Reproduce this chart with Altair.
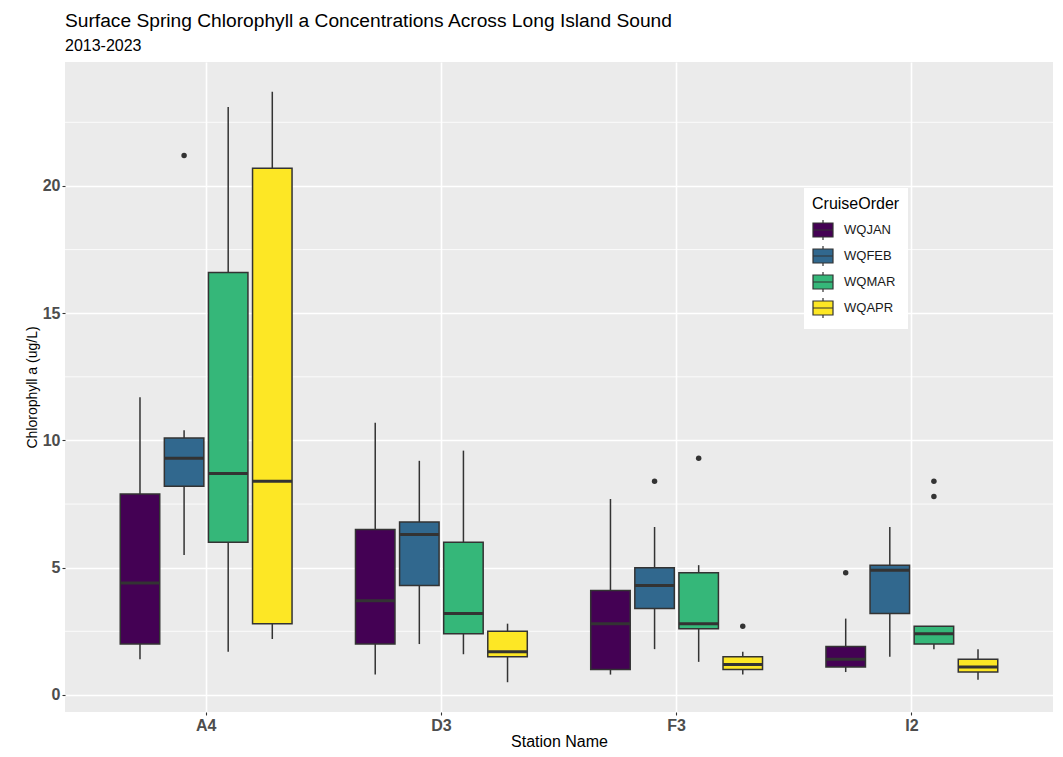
import altair as alt
import pandas as pd

FONT = "Liberation Sans"

stations = ["A4", "D3", "F3", "I2"]
cruises = ["WQJAN", "WQFEB", "WQMAR", "WQAPR"]
colors = ["#440154", "#31688E", "#35B779", "#FDE725"]

# box summaries, station-major, cruise order as in `cruises`
box_station = ["A4"] * 4 + ["D3"] * 4 + ["F3"] * 4 + ["I2"] * 4
box_cruise = cruises * 4
whisker_low = [1.4, 5.5, 1.7, 2.2, 0.8, 2.0, 1.6, 0.5, 0.8, 1.8, 1.3, 0.8, 0.9, 1.5, 1.8, 0.6]
q1 = [2.0, 8.2, 6.0, 2.8, 2.0, 4.3, 2.4, 1.5, 1.0, 3.4, 2.6, 1.0, 1.1, 3.2, 2.0, 0.9]
median = [4.4, 9.3, 8.7, 8.4, 3.7, 6.3, 3.2, 1.7, 2.8, 4.3, 2.8, 1.2, 1.4, 4.9, 2.4, 1.1]
q3 = [7.9, 10.1, 16.6, 20.7, 6.5, 6.8, 6.0, 2.5, 4.1, 5.0, 4.8, 1.5, 1.9, 5.1, 2.7, 1.4]
whisker_high = [11.7, 10.4, 23.1, 23.7, 10.7, 9.2, 9.6, 2.8, 7.7, 6.6, 5.1, 1.7, 3.0, 6.6, 2.7, 1.8]

out_station = ["A4", "F3", "F3", "F3", "I2", "I2", "I2"]
out_cruise = ["WQFEB", "WQFEB", "WQMAR", "WQAPR", "WQJAN", "WQMAR", "WQMAR"]
out_value = [21.2, 8.4, 9.3, 2.7, 4.8, 8.4, 7.8]

y_major = [0, 5, 10, 15, 20]
y_minor = [2.5, 7.5, 12.5, 17.5, 22.5]

boxes_df = pd.DataFrame({
    "station": box_station, "cruise": box_cruise,
    "lower": whisker_low, "q1": q1, "median": median, "q3": q3, "upper": whisker_high,
})
out_df = pd.DataFrame({"station": out_station, "cruise": out_cruise, "value": out_value})
minor_df = pd.DataFrame({"v": y_minor})

YTITLE = "Chlorophyll a (ug/L)"
yscale = alt.Scale(domain=[-0.67, 24.87], nice=False, zero=False)
yaxis = alt.Axis(values=y_major, grid=True, gridColor="white", gridWidth=1.6,
                 domain=False, tickColor="#333333", tickSize=3, tickWidth=1.1,
                 labelFont=FONT, labelFontSize=16, labelFontWeight="bold",
                 labelColor="#4D4D4D", labelPadding=2,
                 title=YTITLE, titleFont=FONT, titleFontSize=14,
                 titleFontWeight="normal", titleColor="black", titlePadding=3)
xscale = alt.Scale(domain=stations, paddingOuter=0.1, paddingInner=0)
xaxis = alt.Axis(labelAngle=0, grid=True, gridColor="white", gridWidth=1.6,
                 domain=False, tickColor="#333333", tickSize=3, tickWidth=1.1,
                 labelFont=FONT, labelFontSize=16, labelFontWeight="bold",
                 labelColor="#4D4D4D", labelPadding=2,
                 title="Station Name", titleFont=FONT, titleFontSize=16,
                 titleFontWeight="normal", titleColor="black", titlePadding=0)

X = alt.X("station:N", scale=xscale, axis=xaxis, sort=stations)
XO = alt.XOffset("cruise:N", scale=alt.Scale(domain=cruises, paddingOuter=0.667, paddingInner=0), sort=cruises)

minor = alt.Chart(minor_df).mark_rule(color="white", strokeWidth=0.8).encode(
    y=alt.Y("v:Q", scale=yscale, axis=yaxis, title=YTITLE)
)

base = alt.Chart(boxes_df)
whiskers = base.mark_rule(color="#333333", strokeWidth=1.5).encode(
    x=X, xOffset=XO,
    y=alt.Y("lower:Q", scale=yscale, axis=yaxis, title=YTITLE), y2="upper:Q",
)

legend_symbol = "M-1,-0.7H1V0.7H-1Z M-1,0H1 M0,-0.7V-1 M0,0.7V1"
bars = base.mark_bar(size=39.5, stroke="#333333", strokeWidth=1.5, opacity=1).encode(
    x=X, xOffset=XO,
    y=alt.Y("q1:Q", scale=yscale, axis=yaxis, title=YTITLE), y2="q3:Q",
    fill=alt.Fill("cruise:N", scale=alt.Scale(domain=cruises, range=colors), sort=cruises,
                  legend=alt.Legend(title="CruiseOrder", orient="none", legendX=739, legendY=126,
                                    fillColor="white", padding=8,
                                    symbolType=legend_symbol, symbolSize=400,
                                    symbolStrokeColor="#333333", symbolStrokeWidth=1.2,
                                    symbolOpacity=1,
                                    titleFont=FONT, titleFontSize=16, titleFontWeight="normal",
                                    titleColor="black", titlePadding=7,
                                    labelFont=FONT, labelFontSize=13, labelColor="#1A1A1A",
                                    labelOffset=10, rowPadding=0)),
)

medians = base.mark_tick(color="#333333", thickness=3, size=39.5, opacity=1).encode(
    x=X, xOffset=XO,
    y=alt.Y("median:Q", scale=yscale, axis=yaxis, title=YTITLE),
)

outliers = alt.Chart(out_df).mark_circle(color="#333333", size=30, opacity=1).encode(
    x=X, xOffset=XO,
    y=alt.Y("value:Q", scale=yscale, axis=yaxis, title=YTITLE),
)

chart = alt.layer(minor, whiskers, bars, medians, outliers).properties(
    width=988, height=650,
    title=alt.TitleParams(text="Surface Spring Chlorophyll a Concentrations Across Long Island Sound",
                          subtitle="2013-2023", anchor="start", frame="group",
                          font=FONT, fontSize=19.2, fontWeight="normal", color="black",
                          subtitleFont=FONT, subtitleFontSize=16, subtitleColor="black",
                          offset=8, subtitlePadding=7),
    autosize=alt.AutoSizeParams(type="none"),
    padding={"left": 57, "top": 54, "right": 2, "bottom": 37},
).configure_view(fill="#EBEBEB", strokeWidth=0)

chart.save("out.html", embed_options={"renderer": "svg", "actions": False})
